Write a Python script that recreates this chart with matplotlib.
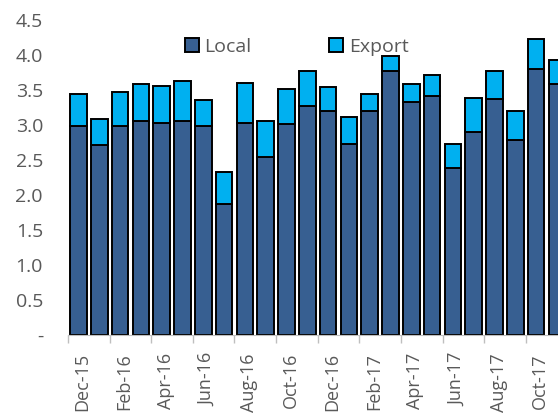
import numpy as np
import matplotlib.pyplot as plt

months = ['Dec-15', 'Jan-16', 'Feb-16', 'Mar-16', 'Apr-16', 'May-16', 'Jun-16', 'Jul-16',
          'Aug-16', 'Sep-16', 'Oct-16', 'Nov-16', 'Dec-16', 'Jan-17', 'Feb-17', 'Mar-17',
          'Apr-17', 'May-17', 'Jun-17', 'Jul-17', 'Aug-17', 'Sep-17', 'Oct-17', 'Nov-17']
local = [2.99, 2.71, 2.99, 3.06, 3.03, 3.06, 2.99, 1.87, 3.03, 2.55, 3.01, 3.27,
         3.20, 2.73, 3.20, 3.77, 3.33, 3.41, 2.38, 2.90, 3.37, 2.79, 3.80, 3.58]
export = [0.45, 0.38, 0.48, 0.52, 0.52, 0.57, 0.37, 0.46, 0.57, 0.51, 0.51, 0.50,
          0.35, 0.38, 0.24, 0.22, 0.25, 0.30, 0.35, 0.49, 0.40, 0.41, 0.43, 0.35]
yticks = [0, 0.5, 1.0, 1.5, 2.0, 2.5, 3.0, 3.5, 4.0, 4.5]
ytick_labels = ['-', '0.5', '1.0', '1.5', '2.0', '2.5', '3.0', '3.5', '4.0', '4.5']

plt.rcParams['font.family'] = ['Open Sans', 'DejaVu Sans']
grey = '#595959'

fig = plt.figure(figsize=(5.58, 4.18), dpi=100)
ax = fig.add_axes([68/558, 83/418, 490/558, 315/418])

x = np.arange(len(months))
ax.bar(x, local, width=0.8, color='#375F91', edgecolor='black', linewidth=1.4, label='Local')
ax.bar(x, export, width=0.8, bottom=local, color='#00B0F0', edgecolor='black', linewidth=1.4, label='Export')

ax.set_xlim(-0.5, 23.05)
ax.set_ylim(0, 4.5)
ax.set_yticks(yticks)
ax.set_yticklabels(ytick_labels)
ax.tick_params(axis='y', length=0, pad=18, labelsize=14, labelcolor=grey)

# labels every second month, tick marks between pairs
ax.set_xticks(x[::2] + 0.2)
ax.set_xticklabels(months[::2], rotation=90)
ax.set_xticks(np.arange(-0.5, 23, 2), minor=True)
ax.tick_params(axis='x', which='major', length=0, labelsize=13, labelcolor=grey, pad=13)
ax.tick_params(axis='x', which='minor', length=6, color='#BFBFBF', width=1)

for s in ['top', 'right', 'left']:
    ax.spines[s].set_visible(False)
ax.spines['bottom'].set_color('#BFBFBF')

ax.legend(loc='center', bbox_to_anchor=(0.532, 0.888), bbox_transform=fig.transFigure,
          ncol=2, frameon=False, fontsize=14, labelcolor=grey,
          handlelength=0.7, handleheight=0.7, handletextpad=0.3, columnspacing=4.0)

fig.savefig('out.png', dpi=100)
